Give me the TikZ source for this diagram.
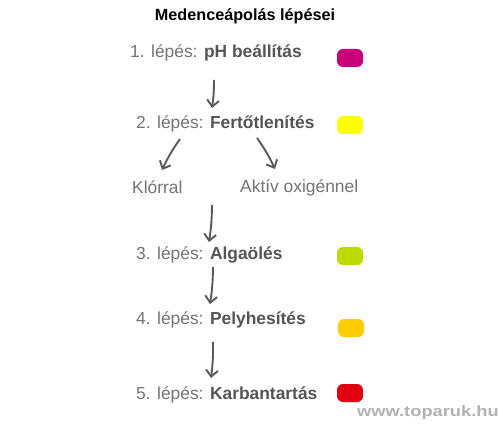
\documentclass[tikz,border=0pt]{standalone}
\usepackage{fontspec}
\setmainfont{Liberation Sans}
\usetikzlibrary{arrows.meta}
\definecolor{txtgray}{HTML}{747474}
\definecolor{boldgray}{HTML}{555555}
\definecolor{arrgray}{HTML}{5A5A5A}
\definecolor{cmag}{HTML}{C8007A}
\definecolor{cyel}{HTML}{FFFF00}
\definecolor{cgrn}{HTML}{BCDC00}
\definecolor{corg}{HTML}{FFCC00}
\definecolor{cred}{HTML}{E00010}
\begin{document}
\begin{tikzpicture}[x=1pt,y=-1pt,
  steptext/.style={anchor=base west,inner sep=0pt,text=txtgray,font=\fontsize{17.4}{20}\selectfont},
  subtext/.style={anchor=base west,inner sep=0pt,text=txtgray,font=\fontsize{17.4}{20}\selectfont},
  titletext/.style={anchor=base,inner sep=0pt,text=black,font=\bfseries\fontsize{16.2}{19}\selectfont},
  pill/.style={rounded corners=6pt,minimum width=26pt,minimum height=18pt,inner sep=0pt,draw=none},
  flow/.style={arrgray,line width=1.9pt,-{Straight Barb[length=6.5pt,width=12pt,line width=1.9pt]}}]
\useasboundingbox (0,0) rectangle (500,427);
\fill[white] (0,0) rectangle (500,427);

\node[titletext] (title) at (245,21) {Medenceápolás lépései};

\node[steptext] (s1) at (130,58) {1. lépés: \textbf{\color{boldgray}pH beállítás}};
\node[steptext] (s2) at (136,129) {2. lépés: \textbf{\color{boldgray}Fertőtlenítés}};
\node[subtext] (k) at (132,194) {Klórral};
\node[subtext] (a) at (240,193) {Aktív oxigénnel};
\node[steptext] (s3) at (136,260) {3. lépés: \textbf{\color{boldgray}Algaölés}};
\node[steptext] (s4) at (136,324) {4. lépés: \textbf{\color{boldgray}Pelyhesítés}};
\node[steptext] (s5) at (136,399) {5. lépés: \textbf{\color{boldgray}Karbantartás}};

\node[pill,fill=cmag] (p1) at (350,58) {};
\node[pill,fill=cyel] (p2) at (350,125) {};
\node[pill,fill=cgrn] (p3) at (350,256) {};
\node[pill,fill=corg] (p4) at (351,328) {};
\node[pill,fill=cred] (p5) at (350,393) {};

\coordinate (a1s) at (214,80);
\coordinate (a1e) at (212,108);
\coordinate (a2s) at (180,139);
\coordinate (a2e) at (162,170);
\coordinate (a3s) at (257,138);
\coordinate (a3e) at (275,169);
\coordinate (a4s) at (212,205);
\coordinate (a4e) at (209,242);
\coordinate (a5s) at (213,267);
\coordinate (a5e) at (210,304);
\coordinate (a6s) at (213,342);
\coordinate (a6e) at (211,378);

\draw[flow] (a1s) to[bend left=4] (a1e);
\draw[flow] (a2s) to[bend right=5] (a2e);
\draw[flow] (a3s) to[bend left=5] (a3e);
\draw[flow] (a4s) to[bend left=4] (a4e);
\draw[flow] (a5s) to[bend left=4] (a5e);
\draw[flow] (a6s) to[bend left=4] (a6e);

\node[anchor=base east,inner sep=0pt,text=gray!60,font=\bfseries\fontsize{15}{17}\selectfont,xscale=1.22] (wm) at (499,416) {www.toparuk.hu};
\end{tikzpicture}
\end{document}
